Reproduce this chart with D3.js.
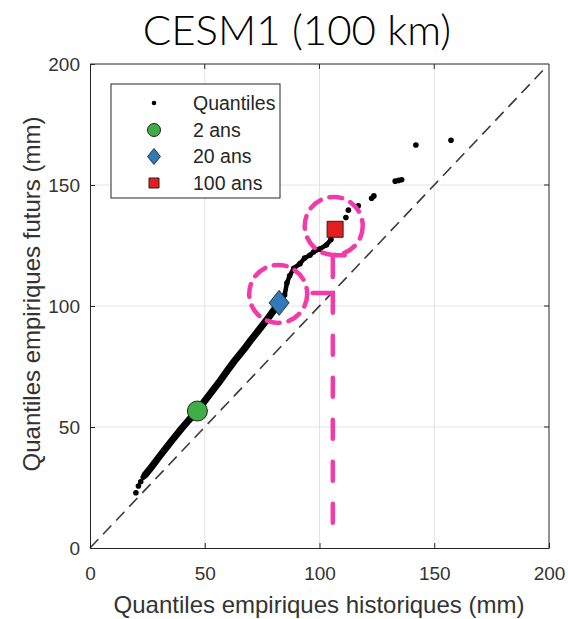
<!DOCTYPE html>
<html>
<head>
<meta charset="utf-8">
<script src="https://cdn.jsdelivr.net/npm/d3@7"></script>
<style>
  body { margin: 0; background: #fff; }
  svg { display: block; }
</style>
</head>
<body>
<div id="chart"></div>
<script>
// Quantile pairs (historical, future)
const histQ = [20.0, 21.1, 22.1, 23.2, 24.0, 26.0, 28.0, 30.0, 33.0, 36.0, 40.0, 43.0, 46.8, 50.0, 53.0, 56.0, 60.0, 63.3, 67.0, 70.0, 74.0, 78.0, 82.4, 84.8, 85.8, 87.0, 88.8, 91.5, 93.5, 95.8, 97.5, 100.0, 103.0, 105.0];
const futQ  = [22.8, 25.6, 27.4, 29.2, 30.2, 32.5, 35.0, 37.5, 41.2, 44.8, 49.5, 52.8, 56.6, 60.8, 64.5, 68.2, 73.5, 77.7, 82.0, 85.8, 90.6, 95.5, 101.3, 104.5, 109.5, 112.5, 115.6, 117.5, 119.8, 121.0, 122.4, 123.5, 125.2, 127.5];
// isolated upper quantiles
const histTail = [111.5, 112.6, 116.9, 122.7, 123.7, 133.0, 134.5, 135.8, 142.0, 157.3];
const futTail  = [136.6, 139.6, 141.4, 144.5, 145.5, 151.6, 151.9, 152.2, 166.5, 168.5];

// return levels
const returnLabels = ["2 ans", "20 ans", "100 ans"];
const returnHist = [46.8, 82.4, 106.8];
const returnFut  = [56.6, 101.3, 131.7];
const returnColors = ["#3fae46", "#3179b8", "#e51d1f"];
const returnShapes = [d3.symbolCircle, d3.symbolDiamond2, d3.symbolSquare];

const tickValues = [0, 50, 100, 150, 200];

const width = 568, height = 619;
const margin = { top: 64, right: 19, bottom: 71, left: 90 };

const svg = d3.select("#chart").append("svg")
    .attr("width", width)
    .attr("height", height);

const x = d3.scaleLinear().domain([0, 200]).range([margin.left, width - margin.right]);
const y = d3.scaleLinear().domain([0, 200]).range([height - margin.bottom, margin.top]);

// title
svg.append("text")
    .attr("x", 297).attr("y", 45)
    .attr("text-anchor", "middle")
    .style("font-family", "Lato, 'Open Sans', sans-serif")
    .style("font-size", "42px")
    .style("font-weight", 300)
    .style("fill", "#000")
    .text("CESM1 (100 km)");

// grid
const grid = svg.append("g").attr("stroke", "#e3e3e3").attr("stroke-width", 1);
tickValues.slice(1, -1).forEach(t => {
    grid.append("line").attr("x1", x(t)).attr("x2", x(t)).attr("y1", y(0)).attr("y2", y(200));
    grid.append("line").attr("x1", x(0)).attr("x2", x(200)).attr("y1", y(t)).attr("y2", y(t));
});

// identity line
svg.append("line")
    .attr("x1", x(0)).attr("y1", y(0))
    .attr("x2", x(198)).attr("y2", y(198))
    .attr("stroke", "#3a3a3a")
    .attr("stroke-width", 1.6)
    .attr("stroke-dasharray", "12 7");

// dense quantiles drawn as a thick trace
const dense = histQ.map((h, i) => [h, futQ[i]]);
const line = d3.line().x(d => x(d[0])).y(d => y(d[1]));
const split = histQ.indexOf(82.4);
svg.append("path")
    .datum(dense.slice(4, split + 1))
    .attr("fill", "none")
    .attr("stroke", "#000")
    .attr("stroke-width", 7)
    .attr("stroke-linecap", "round")
    .attr("stroke-linejoin", "round")
    .attr("d", line);
svg.append("path")
    .datum(dense.slice(split))
    .attr("fill", "none")
    .attr("stroke", "#000")
    .attr("stroke-width", 4.5)
    .attr("stroke-linecap", "round")
    .attr("stroke-linejoin", "round")
    .attr("d", line);

const tail = histTail.map((h, i) => [h, futTail[i]]);
svg.append("g").selectAll("circle")
    .data(dense.concat(tail))
    .join("circle")
    .attr("cx", d => x(d[0]))
    .attr("cy", d => y(d[1]))
    .attr("r", 2.8)
    .attr("fill", "#000");

// return level markers
const sizes = [314, 398, 256];
svg.append("g").selectAll("path")
    .data(returnLabels)
    .join("path")
    .attr("transform", (d, i) => `translate(${x(returnHist[i])},${y(returnFut[i])})` + (i === 1 ? " scale(0.8,1)" : ""))
    .attr("d", (d, i) => d3.symbol(returnShapes[i], sizes[i])())
    .attr("fill", (d, i) => returnColors[i])
    .attr("stroke", "#222")
    .attr("stroke-width", 1);

// axes (MATLAB style, ticks inside)
const fontTick = "'Liberation Sans', Arial, sans-serif";
const xAxis = svg.append("g")
    .attr("transform", `translate(0,${y(0)})`)
    .call(d3.axisBottom(x).tickValues(tickValues).tickSize(-5).tickPadding(25).tickSizeOuter(0));
const yAxis = svg.append("g")
    .attr("transform", `translate(${x(0)},0)`)
    .call(d3.axisLeft(y).tickValues(tickValues).tickSize(-5).tickPadding(10).tickSizeOuter(0));
[xAxis, yAxis].forEach(g => {
    g.select(".domain").attr("stroke", "#262626");
    g.selectAll(".tick line").attr("stroke", "#262626");
    g.selectAll(".tick text")
        .style("font-family", fontTick)
        .style("font-size", "19px")
        .attr("fill", "#333");
});
xAxis.selectAll(".tick text").attr("dy", "0.35em");

// box top/right with inner ticks
svg.append("line").attr("x1", x(0)).attr("x2", x(200)).attr("y1", y(200)).attr("y2", y(200)).attr("stroke", "#262626");
svg.append("line").attr("x1", x(200)).attr("x2", x(200)).attr("y1", y(0)).attr("y2", y(200)).attr("stroke", "#262626");
tickValues.slice(1, -1).forEach(t => {
    svg.append("line").attr("x1", x(t)).attr("x2", x(t)).attr("y1", y(200)).attr("y2", y(200) + 5).attr("stroke", "#262626");
    svg.append("line").attr("x1", x(200)).attr("x2", x(200) - 5).attr("y1", y(t)).attr("y2", y(t)).attr("stroke", "#262626");
});

// axis labels
svg.append("text")
    .attr("x", 319).attr("y", 613)
    .attr("text-anchor", "middle")
    .style("font-family", fontTick)
    .style("font-size", "24px")
    .attr("fill", "#333")
    .text("Quantiles empiriques historiques (mm)");
svg.append("text")
    .attr("transform", "translate(40,294) rotate(-90)")
    .attr("text-anchor", "middle")
    .style("font-family", fontTick)
    .style("font-size", "24px")
    .attr("fill", "#333")
    .text("Quantiles empiriques futurs (mm)");

// pink annotations (data units)
const pink = "#f23ba8";
const annot = svg.append("g")
    .attr("fill", "none")
    .attr("stroke", pink)
    .attr("stroke-width", 4.5)
    .attr("stroke-linecap", "round");
annot.append("circle").attr("cx", x(82)).attr("cy", y(105)).attr("r", 29).attr("stroke-dasharray", "13 9");
annot.append("circle").attr("cx", x(106.2)).attr("cy", y(133.1)).attr("r", 29).attr("stroke-dasharray", "13 9");
annot.append("path")
    .attr("d", d3.line()([[x(97), y(105.4)], [x(105.8), y(105.4)], [x(105.8), y(9)]]))
    .attr("stroke-dasharray", "40 23 19 23 19 23 19 23 19 23 19 23");
annot.append("path")
    .attr("d", d3.line()([[x(105.8), y(112)], [x(105.8), y(121)], [x(111), y(121)]]));

// legend
const lg = svg.append("g");
lg.append("rect")
    .attr("x", 111).attr("y", 84).attr("width", 169).attr("height", 114)
    .attr("fill", "#fff").attr("stroke", "#262626").attr("stroke-width", 1);
const legendNames = ["Quantiles"].concat(returnLabels);
const legendY = [103, 130, 156.5, 183];
lg.append("circle").attr("cx", 154).attr("cy", legendY[0]).attr("r", 2.3).attr("fill", "#000");
const lsizes = [133, 163, 100];
returnLabels.forEach((d, i) => {
    lg.append("path")
        .attr("transform", `translate(154,${legendY[i + 1]})` + (i === 1 ? " scale(0.81,1)" : ""))
        .attr("d", d3.symbol(returnShapes[i], lsizes[i])())
        .attr("fill", returnColors[i])
        .attr("stroke", "#222");
});
lg.selectAll("text")
    .data(legendNames)
    .join("text")
    .attr("x", 193)
    .attr("y", (d, i) => legendY[i])
    .attr("dy", "0.35em")
    .style("font-family", fontTick)
    .style("font-size", "19.5px")
    .attr("fill", "#262626")
    .text(d => d);
</script>
</body>
</html>
